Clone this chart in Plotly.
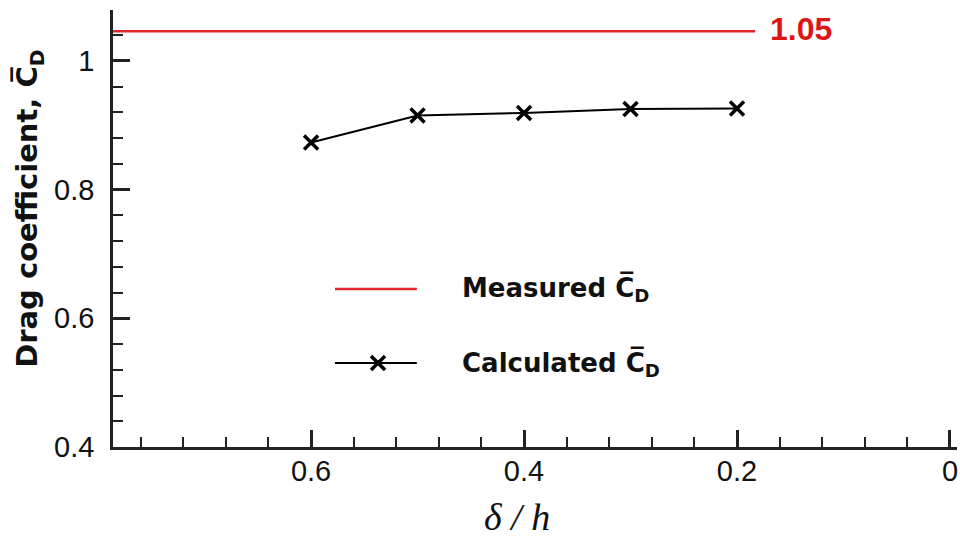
import plotly.graph_objects as go

# ---- data ----
delta_h = [0.6, 0.5, 0.4, 0.3, 0.2]
calc_cd = [0.873, 0.915, 0.919, 0.925, 0.926]
measured_x = [0.79, 0.183]
measured_cd = [1.046, 1.046]
measured_label = "1.05"
x_tickvals = [0.6, 0.4, 0.2, 0.0]
x_ticktext = ["0.6", "0.4", "0.2", "0"]
y_tickvals = [0.4, 0.6, 0.8, 1.0]
y_ticktext = ["0.4", "0.6", "0.8", "1"]

RED = "#e0262b"
AXC = "#222222"
TICKFONT = dict(family="Liberation Sans, Arial, sans-serif", size=29, color="#111111")
BOLDFONT = dict(family="DejaVu Sans, sans-serif", size=26, color="#111111", weight="bold")

fig = go.Figure()

# measured line
fig.add_trace(go.Scatter(x=measured_x, y=measured_cd, mode="lines",
                         line=dict(color=RED, width=2.5), hoverinfo="skip", cliponaxis=True))
# calculated
fig.add_trace(go.Scatter(x=delta_h, y=calc_cd, mode="lines+markers",
                         line=dict(color="black", width=2),
                         marker=dict(symbol="x-thin", size=14, line=dict(width=3.5, color="black")),
                         cliponaxis=False))

# legend samples on overlay axes (paper-like 0..1)
fig.add_trace(go.Scatter(x=[0.263, 0.360], y=[0.3616, 0.3616], mode="lines",
                         line=dict(color=RED, width=2.5), xaxis="x2", yaxis="y2", hoverinfo="skip"))
fig.add_trace(go.Scatter(x=[0.263, 0.360], y=[0.1922, 0.1922], mode="lines",
                         line=dict(color="black", width=2), xaxis="x2", yaxis="y2", hoverinfo="skip"))
fig.add_trace(go.Scatter(x=[0.314], y=[0.1922], mode="markers",
                         marker=dict(symbol="x-thin", size=14, line=dict(width=3.5, color="black")),
                         xaxis="x2", yaxis="y2", hoverinfo="skip"))

fig.update_layout(
    width=960, height=539,
    margin=dict(l=113, r=3, t=10, b=92),
    paper_bgcolor="white", plot_bgcolor="white",
    showlegend=False,
    xaxis=dict(range=[0.786, -0.0066], tickvals=x_tickvals, ticktext=x_ticktext,
               ticks="inside", ticklen=17, tickwidth=2.5, tickcolor=AXC,
               minor=dict(dtick=0.04, tick0=0, ticks="inside", ticklen=10, tickwidth=2, tickcolor=AXC),
               showline=True, linecolor=AXC, linewidth=2.5, showgrid=False, zeroline=False,
               tickfont=TICKFONT, ticklabelstandoff=-4),
    yaxis=dict(range=[0.4, 1.079], tickvals=y_tickvals, ticktext=y_ticktext,
               ticks="inside", ticklen=17, tickwidth=2.5, tickcolor=AXC,
               minor=dict(dtick=0.04, tick0=0, ticks="inside", ticklen=10, tickwidth=2, tickcolor=AXC),
               showline=True, linecolor=AXC, linewidth=2.5, showgrid=False, zeroline=False,
               tickfont=TICKFONT, ticklabelstandoff=10),
    xaxis2=dict(range=[0, 1], overlaying="x", visible=False, fixedrange=True),
    yaxis2=dict(range=[0, 1], overlaying="y", visible=False, fixedrange=True),
)

annots = [
    dict(text="<b>" + measured_label + "</b>", x=0.183, xanchor="left", xshift=13,
         y=1.05, yanchor="middle", xref="x", yref="y", showarrow=False,
         font=dict(family="Liberation Sans, Arial, sans-serif", size=32, color="#dd1515")),
    dict(text="<b>Measured C\u0305<sub>D</sub></b>", x=0.411, y=0.3616, xref="paper", yref="paper",
         xanchor="left", yanchor="middle", showarrow=False, font=BOLDFONT),
    dict(text="<b>Calculated C\u0305<sub>D</sub></b>", x=0.411, y=0.1922, xref="paper", yref="paper",
         xanchor="left", yanchor="middle", showarrow=False, font=BOLDFONT),
    dict(text="<b>Drag coefficient, C\u0305<sub>D</sub></b>", textangle=-90,
         x=-0.0995, y=0.545, xref="paper", yref="paper", xanchor="center", yanchor="middle",
         showarrow=False, font=dict(family="DejaVu Sans, sans-serif", size=29, color="#111111")),
    dict(text="<i>\u03b4 / h</i>", x=0.4787, y=-0.160, xref="paper", yref="paper",
         xanchor="center", yanchor="middle", showarrow=False,
         font=dict(family="Liberation Serif, Times New Roman, serif", size=38, color="#111111")),
]
fig.update_layout(annotations=annots)

fig.write_html(
    "out.html",
    config={"displayModeBar": False},
    post_script="document.body.style.margin='0';document.documentElement.style.overflow='hidden';",
)
